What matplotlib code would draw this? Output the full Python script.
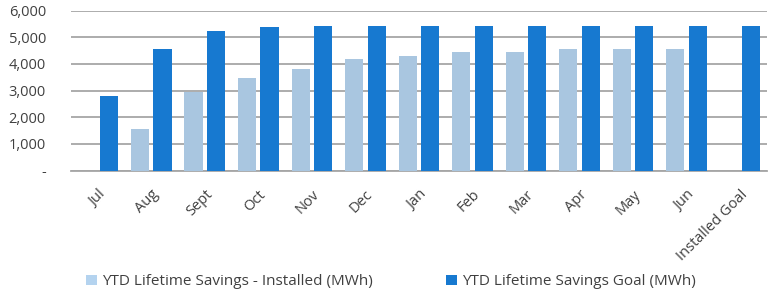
import matplotlib
matplotlib.use('Agg')
import matplotlib.pyplot as plt
import numpy as np
from matplotlib.ticker import FuncFormatter

# 数据
months = ['Jul', 'Aug', 'Sept', 'Oct', 'Nov', 'Dec', 'Jan', 'Feb', 'Mar',
          'Apr', 'May', 'Jun', 'Installed Goal']
installed = [np.nan, 1556, 2943, 3456, 3794, 4169, 4294, 4444, 4450,
             4556, 4556, 4556, np.nan]
goal = [2812, 4545, 5219, 5381, 5419, 5419, 5419, 5419, 5419,
        5419, 5419, 5419, 5419]

plt.rcParams['font.family'] = ['Open Sans', 'DejaVu Sans']

fig = plt.figure(figsize=(7.69, 2.93), dpi=100)
ax = fig.add_axes([0.0923, 0.418, 0.905, 0.546])

x = np.arange(len(months))
w = 0.34
ax.bar(x - 0.21, installed, w, color='#a9c6e0', label='YTD Lifetime Savings - Installed (MWh)', zorder=3)
ax.bar(x + 0.21, goal, w, color='#1779d0', label='YTD Lifetime Savings Goal (MWh)', zorder=3)

ax.set_xlim(-0.5, len(months) - 0.5)
ax.set_ylim(0, 6000)
ax.set_yticks(range(0, 6001, 1000))
ax.yaxis.set_major_formatter(FuncFormatter(lambda v, p: '-' if v == 0 else f'{int(v):,}'))
ax.grid(axis='y', color='#a6a6a6', linewidth=1.3, zorder=0)
ax.set_axisbelow(True)

for s in ['top', 'right', 'left']:
    ax.spines[s].set_visible(False)
ax.spines['bottom'].set_color('#a6a6a6')
ax.spines['bottom'].set_linewidth(1.3)

ax.tick_params(axis='both', length=0, labelsize=10.5, colors='#404040')
ax.tick_params(axis='y', pad=18)
ax.set_xticks(x)
ax.set_xticklabels(months, rotation=45, ha='right', rotation_mode='anchor')
ax.tick_params(axis='x', pad=12)

# 图例放在底部
leg = fig.legend(loc='center left', bbox_to_anchor=(0.112, 0.038), ncol=2, frameon=False,
                 fontsize=11, handlelength=0.7, handleheight=0.7, handletextpad=0.35,
                 columnspacing=4.8, labelcolor='#404040', borderaxespad=0, borderpad=0)
leg.get_patches()[0].set_facecolor('#b4d3ef')

fig.savefig('out.png', dpi=100)
